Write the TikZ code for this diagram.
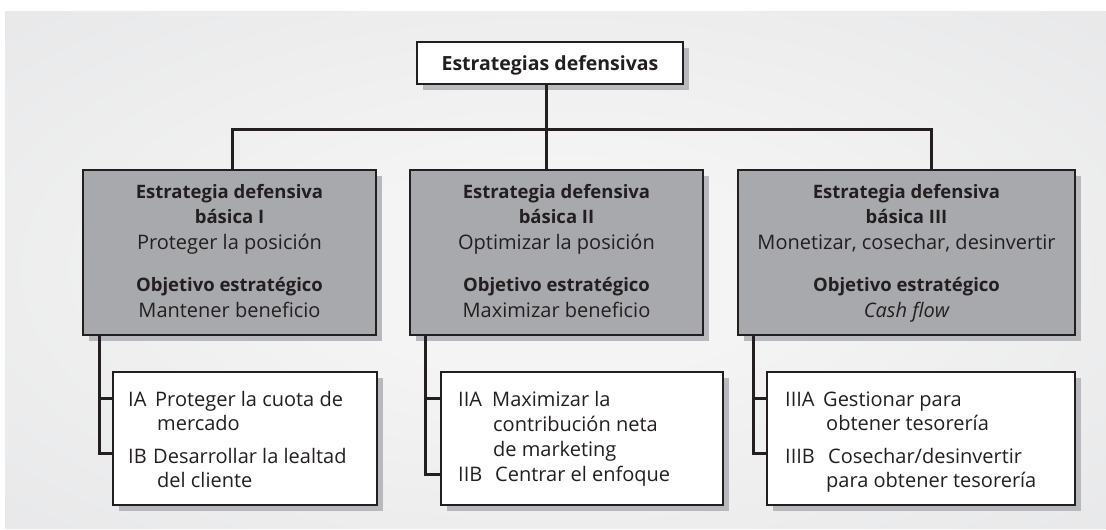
\documentclass[tikz,border=0pt]{standalone}
\usepackage{fontspec}
\setmainfont{Open Sans}
\usetikzlibrary{calc,shadows}
\definecolor{bgout}{RGB}{218,219,222}
\definecolor{bgin}{RGB}{244,244,244}
\definecolor{boxgray}{RGB}{168,169,173}
\definecolor{shgray}{RGB}{184,185,189}
\definecolor{ink}{RGB}{35,31,32}
\pgfdeclareradialshading{bgshade}{\pgfpoint{0bp}{0bp}}{color(0bp)=(bgin); color(10bp)=(bgin); color(65bp)=(bgout); color(100bp)=(bgout)}
\tikzset{
  base/.style={draw=ink, line width=2pt, inner sep=0pt, drop shadow={shadow xshift=6pt, shadow yshift=-6pt, fill=shgray, opacity=1}},
  graybox/.style={base, fill=boxgray, minimum width=293pt, minimum height=165pt},
  whitebox/.style={base, fill=white, minimum height=133pt},
  topbox/.style={base, fill=white, minimum width=266pt, minimum height=42pt},
  conn/.style={draw=ink, line width=3pt},
  txt/.style={text=ink, inner sep=0pt, font=\fontsize{20}{24}\selectfont},
  bt/.style={txt, font=\fontsize{18.5}{22}\selectfont\bfseries},
  ctr/.style={anchor=base},
  lft/.style={anchor=base west},
}
\begin{document}
\begin{tikzpicture}[x=1pt,y=-1pt]
\useasboundingbox (0,0) rectangle (1106,530);
\fill[white] (0,0) rectangle (1106,530);
\shade[shading=bgshade] (5,11) rectangle (1106,528);

% top box
\node[topbox] (top) at (550,63) {};
\node[bt, ctr, font=\fontsize{19.5}{22}\selectfont\bfseries] (toptxt) at (550,70.5) {Estrategias defensivas};

% gray boxes
\node[graybox] (g1) at (229.5,252.5) {};
\node[graybox] (g2) at (556.5,252.5) {};
\node[graybox, minimum width=337pt] (g3) at (906.5,252.5) {};

% white boxes
\node[whitebox, minimum width=264pt] (w1) at (245,438.5) {};
\node[whitebox, minimum width=282pt] (w2) at (582,438.5) {};
\node[whitebox, minimum width=308pt] (w3) at (921,438.5) {};

% bus
\coordinate (busL) at (232,129);
\coordinate (busM) at (546,129);
\coordinate (busR) at (931,129);
\draw[conn] (busL |- g1.north) -- (busL) -- (busR) -- (busR |- g3.north);
\draw[conn] (busM |- top.south) -- (busM |- g2.north);

% column connectors
\coordinate (v1a) at (99,398);  \coordinate (v1b) at (99,453);
\coordinate (v2a) at (425,398); \coordinate (v2b) at (425,474);
\coordinate (v3a) at (753,398); \coordinate (v3b) at (753,453);
\draw[conn] (v1a |- g1.south) -- (v1b) -- (v1b -| w1.west);
\draw[conn] (v1a) -- (v1a -| w1.west);
\draw[conn] (v2a |- g2.south) -- (v2b) -- (v2b -| w2.west);
\draw[conn] (v2a) -- (v2a -| w2.west);
\draw[conn] (v3a |- g3.south) -- (v3b) -- (v3b -| w3.west);
\draw[conn] (v3a) -- (v3a -| w3.west);

% gray box texts
\node[bt, ctr] (g1a) at (229.5,198) {Estrategia defensiva};
\node[bt, ctr] (g1b) at (229.5,223) {básica I};
\node[txt, ctr] (g1c) at (229.5,249) {Proteger la posición};
\node[bt, ctr] (g1d) at (229.5,291) {Objetivo estratégico};
\node[txt, ctr] (g1e) at (229.5,317) {Mantener beneficio};

\node[bt, ctr] (g2a) at (556.5,198) {Estrategia defensiva};
\node[bt, ctr] (g2b) at (556.5,223) {básica II};
\node[txt, ctr] (g2c) at (556.5,249) {Optimizar la posición};
\node[bt, ctr] (g2d) at (556.5,291) {Objetivo estratégico};
\node[txt, ctr] (g2e) at (556.5,317) {Maximizar beneficio};

\node[bt, ctr] (g3a) at (906.5,198) {Estrategia defensiva};
\node[bt, ctr] (g3b) at (906.5,223) {básica III};
\node[txt, ctr] (g3c) at (906.5,249) {Monetizar, cosechar, desinvertir};
\node[bt, ctr] (g3d) at (906.5,291) {Objetivo estratégico};
\node[txt, ctr] (g3e) at (906.5,317) {\itshape Cash flow};

% white box texts
\node[txt, lft] (w1a) at (128,406) {IA};
\node[txt, lft] (w1b) at (155,406) {Proteger la cuota de};
\node[txt, lft] (w1c) at (157,430) {mercado};
\node[txt, lft] (w1d) at (128,463) {IB};
\node[txt, lft] (w1e) at (153,463) {Desarrollar la lealtad};
\node[txt, lft] (w1f) at (157,487) {del cliente};

\node[txt, lft] (w2a) at (458,406) {IIA};
\node[txt, lft] (w2b) at (492,406) {Maximizar la};
\node[txt, lft] (w2c) at (493,431) {contribución neta};
\node[txt, lft] (w2d) at (493,456) {de marketing};
\node[txt, lft] (w2e) at (458,481) {IIB};
\node[txt, lft] (w2f) at (495,481) {Centrar el enfoque};

\node[txt, lft] (w3a) at (785,406) {IIIA};
\node[txt, lft] (w3b) at (823,406) {Gestionar para};
\node[txt, lft] (w3c) at (826,430) {obtener tesorería};
\node[txt, lft] (w3d) at (785,463) {IIIB};
\node[txt, lft] (w3e) at (828,463) {Cosechar/desinvertir};
\node[txt, lft] (w3f) at (826,487) {para obtener tesorería};
\end{tikzpicture}
\end{document}
